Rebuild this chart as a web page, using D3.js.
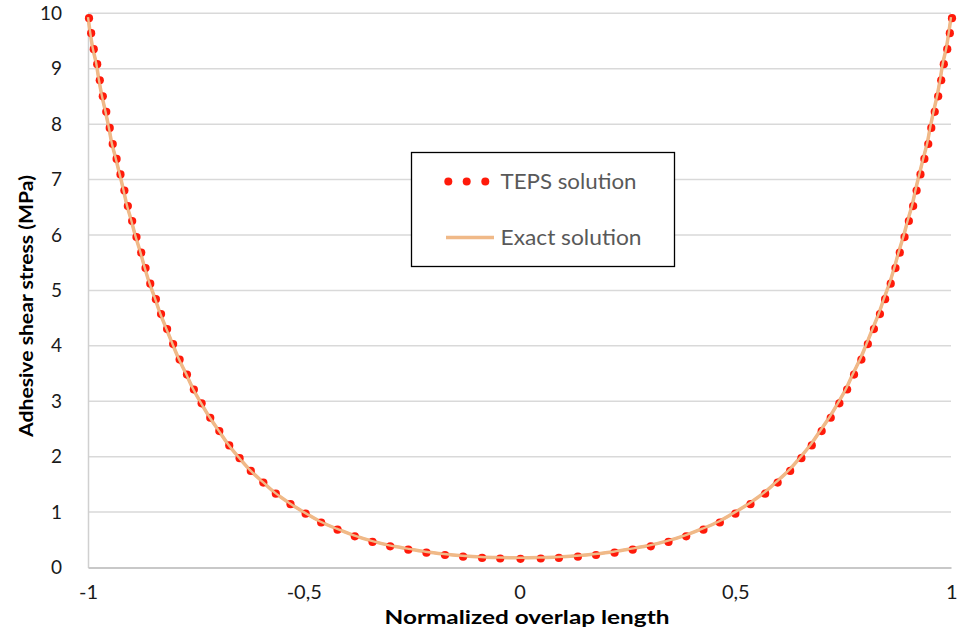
<!DOCTYPE html>
<html lang="en">
<head>
<meta charset="UTF-8">
<title>Adhesive shear stress</title>
<script src="https://cdn.jsdelivr.net/npm/d3@7"></script>
<style>
  * { margin: 0; padding: 0; }
  body { background: #fff; }
  svg { display: block; }
  text { font-family: Lato, "Open Sans", sans-serif; }
</style>
</head>
<body>
<svg></svg>
<script>
// TEPS solution points
const tepsX = [
  -1.000, -0.995, -0.989, -0.981, -0.975, -0.968, -0.960, -0.952, -0.945, -0.936,
  -0.927, -0.918, -0.910, -0.900, -0.890, -0.879, -0.869, -0.858, -0.845, -0.833,
  -0.819, -0.805, -0.790, -0.773, -0.757, -0.739, -0.719, -0.698, -0.675, -0.651,
  -0.625, -0.596, -0.567, -0.533, -0.498, -0.462, -0.424, -0.384, -0.343, -0.302,
  -0.260, -0.218, -0.175, -0.133, -0.089, -0.047, 0.000,
  0.047, 0.089, 0.133, 0.175, 0.218, 0.260, 0.302, 0.343, 0.384, 0.424,
  0.462, 0.498, 0.533, 0.567, 0.596, 0.625, 0.651, 0.675, 0.698, 0.719,
  0.739, 0.757, 0.773, 0.790, 0.805, 0.819, 0.833, 0.845, 0.858, 0.869,
  0.879, 0.890, 0.900, 0.910, 0.918, 0.927, 0.936, 0.945, 0.952, 0.960,
  0.968, 0.975, 0.981, 0.989, 0.995, 1.000
];
const tepsY = [
  9.93, 9.66, 9.37, 9.10, 8.81, 8.52, 8.24, 7.95, 7.66, 7.39,
  7.11, 6.82, 6.54, 6.27, 5.98, 5.70, 5.42, 5.14, 4.86, 4.59,
  4.32, 4.05, 3.77, 3.50, 3.23, 2.98, 2.72, 2.48, 2.22, 1.99,
  1.76, 1.55, 1.35, 1.16, 0.99, 0.83, 0.70, 0.58, 0.48, 0.40,
  0.34, 0.285, 0.244, 0.213, 0.19, 0.18, 0.175,
  0.18, 0.19, 0.213, 0.244, 0.285, 0.34, 0.40, 0.48, 0.58, 0.70,
  0.83, 0.99, 1.16, 1.35, 1.55, 1.76, 1.99, 2.22, 2.48, 2.72,
  2.98, 3.23, 3.50, 3.77, 4.05, 4.32, 4.59, 4.86, 5.14, 5.42,
  5.70, 5.98, 6.27, 6.54, 6.82, 7.11, 7.39, 7.66, 7.95, 8.24,
  8.52, 8.81, 9.10, 9.37, 9.66, 9.93
];
// exact solution drawn through the same abscissae
const exactX = tepsX;
const exactY = tepsY;

const xTicks = [-1, -0.5, 0, 0.5, 1];
const yTicks = [0, 1, 2, 3, 4, 5, 6, 7, 8, 9, 10];
const seriesNames = ['TEPS solution', 'Exact solution'];

const width = 957, height = 636;
const margin = { left: 88, top: 13.3, right: 6, bottom: 68.5 };
const innerWidth = width - margin.left - margin.right;
const innerHeight = height - margin.top - margin.bottom;

const svg = d3.select('svg').attr('width', width).attr('height', height);

const xScale = d3.scaleLinear().domain([-1, 1]).range([0, innerWidth]);
const yScale = d3.scaleLinear().domain([0, 10]).range([innerHeight, 0]);

const comma = d3.formatLocale({ decimal: ',', thousands: '.', grouping: [3], currency: ['', ''], minus: '-' }).format('~g');

const g = svg.append('g').attr('transform', `translate(${margin.left},${margin.top})`);

// horizontal grid
g.append('g').selectAll('line')
  .data(yTicks.filter(d => d > 0)).enter()
  .append('line')
  .attr('x1', 0).attr('x2', innerWidth)
  .attr('y1', d => yScale(d)).attr('y2', d => yScale(d))
  .attr('stroke', '#d9d9d9').attr('stroke-width', 1.5);

// y axis
const yAxis = g.append('g').call(d3.axisLeft(yScale).tickValues(yTicks).tickSize(0).tickPadding(26).tickFormat(d3.format('d')));
yAxis.select('.domain').attr('stroke', '#d0d0d0').attr('stroke-width', 1.5);
yAxis.selectAll('text').attr('font-size', 19).attr('fill', '#1a1a1a').attr('font-family', 'Lato, sans-serif');

// x axis
const xAxis = g.append('g').attr('transform', `translate(0,${innerHeight})`)
  .call(d3.axisBottom(xScale).tickValues(xTicks).tickSize(0).tickPadding(17).tickFormat(comma));
xAxis.select('.domain').attr('stroke', '#c8c8c8').attr('stroke-width', 2);
xAxis.selectAll('text').attr('font-size', 20).attr('fill', '#1a1a1a').attr('font-family', 'Lato, sans-serif');
xAxis.selectAll('.tick').filter(d => d === 1).select('text').attr('text-anchor', 'end').attr('dx', 6);

const line = d3.line().x(d => xScale(d[0])).y(d => yScale(d[1])).curve(d3.curveCatmullRom);
const pts = exactX.map((x, i) => [x, exactY[i]]);

// exact solution line (under)
g.append('path')
  .datum(pts)
  .attr('fill', 'none')
  .attr('stroke', '#f0b988')
  .attr('stroke-width', 3.5)
  .attr('d', line);

// TEPS dots
g.append('g').selectAll('circle')
  .data(tepsX.map((x, i) => [x, tepsY[i]])).enter()
  .append('circle')
  .attr('cx', d => xScale(d[0]) + 1)
  .attr('cy', d => yScale(d[1]) + 1)
  .attr('r', 4.1)
  .attr('fill', '#ff1a0a');

// line again, thinner, over the dots
g.append('path')
  .datum(pts)
  .attr('fill', 'none')
  .attr('stroke', '#f0b988')
  .attr('stroke-width', 2.4)
  .attr('d', line);

// axis titles
svg.append('text')
  .attr('x', 527).attr('y', 624)
  .attr('text-anchor', 'middle')
  .attr('font-size', 18).attr('font-weight', 'bold').attr('fill', '#000')
  .attr('textLength', 285).attr('lengthAdjust', 'spacingAndGlyphs')
  .text('Normalized overlap length');

svg.append('text')
  .attr('transform', 'translate(33,306) rotate(-90)')
  .attr('text-anchor', 'middle')
  .attr('font-size', 19).attr('font-weight', 'bold').attr('fill', '#000')
  .attr('textLength', 262).attr('lengthAdjust', 'spacingAndGlyphs')
  .text('Adhesive shear stress (MPa)');

// legend
const legend = svg.append('g');
legend.append('rect')
  .attr('x', 411.5).attr('y', 152.5).attr('width', 263).attr('height', 114)
  .attr('fill', '#fff').attr('stroke', '#000').attr('stroke-width', 1.3);

legend.selectAll('circle.leg')
  .data([448.3, 466.7, 485.3]).enter()
  .append('circle')
  .attr('cx', d => d).attr('cy', 181.5).attr('r', 4).attr('fill', '#ff1a0a');

legend.append('line')
  .attr('x1', 446).attr('x2', 494).attr('y1', 237.5).attr('y2', 237.5)
  .attr('stroke', '#f0b988').attr('stroke-width', 3.5);

legend.selectAll('text')
  .data(seriesNames).enter()
  .append('text')
  .attr('x', 500.5)
  .attr('y', (d, i) => i === 0 ? 188.5 : 244.5)
  .attr('font-size', 21).attr('fill', '#595959')
  .attr('textLength', (d, i) => i === 0 ? 136 : 141).attr('lengthAdjust', 'spacingAndGlyphs')
  .text(d => d);
</script>
</body>
</html>
